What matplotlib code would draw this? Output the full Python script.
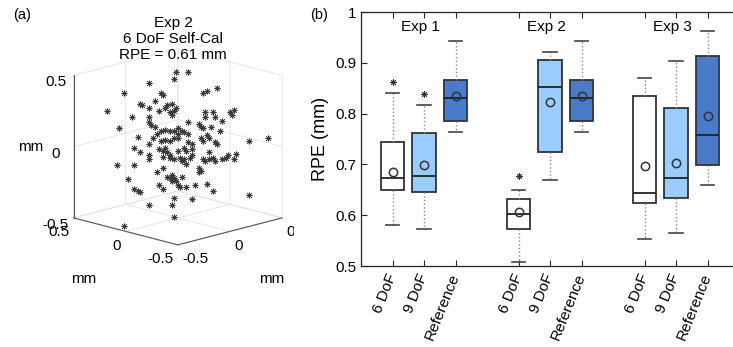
import matplotlib
matplotlib.use('Agg')
import matplotlib.pyplot as plt
from matplotlib.transforms import ScaledTranslation
from matplotlib.patches import Rectangle

plt.rcParams['font.family'] = ['Liberation Sans', 'DejaVu Sans']

# ---------------- Panel (a): 3D scatter of reprojection errors (mm) ----------------
pts_x = [0.24,0.30,0.23,-0.14,-0.26,-0.08,-0.07,-0.11,-0.18,-0.17,
         -0.14,-0.09,-0.06,-0.05,-0.03,-0.04,-0.02,-0.03,-0.01,-0.34,
         -0.22,-0.14,-0.28,-0.14,-0.13,-0.11,-0.19,-0.12,-0.10,-0.08,
         -0.06,-0.04,-0.02,0.00,-0.08,-0.06,-0.04,-0.02,-0.14,0.12,
         0.14,0.19,0.13,0.13,0.17,0.18,0.21,0.25,0.26,0.27,
         0.05,0.10,0.11,0.12,0.16,0.20,0.00,0.02,0.03,0.05,
         0.11,0.12,0.14,0.15,0.18,0.19,0.34,0.43,0.00,0.05,
         0.07,-0.21,-0.18,-0.14,-0.14,-0.09,-0.07,-0.06,-0.05,-0.04,
         -0.02,-0.29,-0.21,-0.10,-0.07,-0.24,-0.05,-0.04,-0.03,-0.02,
         -0.01,-0.03,-0.09,-0.07,-0.21,-0.19,-0.18,-0.02,-0.14,-0.03,
         -0.27,-0.46,0.04,0.07,0.07,0.06,0.03,0.01,0.15,0.12,
         0.13,0.15,0.17,0.18,0.21,0.23,0.24,0.28,0.27,0.10,
         0.11,0.10,0.02,0.00,0.01,0.04,0.08,0.14,0.17,0.07,
         0.34,0.00,0.03,-0.04,-0.07,0.02,0.04]
pts_y = [0.26,0.20,0.27,0.14,0.26,0.08,0.07,0.11,0.18,0.17,
         0.14,0.09,0.06,0.05,0.03,0.04,0.02,0.03,0.01,0.34,
         0.22,0.14,0.28,0.14,0.13,0.11,0.19,0.12,0.10,0.08,
         0.06,0.04,0.02,0.00,0.08,0.06,0.04,0.02,0.14,-0.12,
         -0.14,-0.19,-0.13,-0.13,-0.17,-0.18,-0.21,-0.25,-0.26,-0.27,
         -0.05,-0.10,-0.11,-0.12,-0.16,-0.20,0.00,-0.02,-0.03,-0.05,
         -0.11,-0.12,-0.14,-0.15,-0.18,-0.19,-0.34,-0.43,0.00,-0.05,
         -0.07,0.21,0.18,0.14,0.14,0.09,0.07,0.06,0.05,0.04,
         0.02,0.29,0.21,0.10,0.07,0.24,0.05,0.04,0.03,0.02,
         0.01,0.03,0.09,0.07,0.21,0.19,0.18,0.02,0.14,0.03,
         -0.23,0.06,-0.04,-0.07,-0.07,-0.06,-0.03,-0.01,-0.15,-0.12,
         -0.13,-0.15,-0.17,-0.18,-0.21,-0.23,-0.24,-0.28,-0.27,-0.10,
         -0.11,-0.10,-0.02,0.00,-0.01,-0.04,-0.08,-0.14,-0.17,-0.07,
         -0.34,0.00,-0.03,0.04,0.07,-0.02,-0.04]
pts_z = [0.43,0.43,0.38,0.45,0.38,0.38,0.36,0.32,0.30,0.29,
         0.27,0.25,0.27,0.29,0.30,0.24,0.25,0.22,0.27,0.25,
         0.21,0.21,0.13,0.17,0.15,0.14,0.07,0.06,0.09,0.11,
         0.12,0.11,0.11,0.09,0.04,0.05,0.04,0.06,0.02,0.38,
         0.39,0.41,0.24,0.21,0.24,0.21,0.18,0.24,0.22,0.26,
         0.17,0.16,0.14,0.13,0.14,0.11,0.13,0.11,0.10,0.09,
         0.06,0.04,0.08,0.06,0.03,0.02,0.04,0.06,0.06,0.03,
         0.02,-0.01,-0.04,-0.06,-0.09,-0.02,-0.03,-0.01,-0.04,-0.08,
         -0.09,-0.13,-0.13,-0.18,-0.15,-0.23,-0.21,-0.22,-0.24,-0.22,
         -0.24,-0.20,-0.27,-0.30,-0.30,-0.31,-0.32,-0.36,-0.41,-0.41,
         -0.40,-0.48,-0.03,-0.02,-0.06,-0.08,-0.09,-0.08,-0.04,-0.09,
         -0.10,-0.09,-0.08,-0.10,-0.09,-0.08,-0.06,-0.05,-0.09,-0.15,
         -0.17,-0.18,-0.21,-0.27,-0.28,-0.28,-0.27,-0.26,-0.31,-0.37,
         -0.34,-0.03,-0.01,-0.06,-0.07,-0.10,-0.12]
ticks3d = [-0.5, 0, 0.5]
tick3d_labels = ['-0.5', '0', '0.5']
title_a = "Exp 2\n6 DoF Self-Cal\nRPE = 0.61 mm"

# ---------------- Panel (b): RPE box plots ----------------
positions = [1, 2, 3, 5, 6, 7, 9, 10, 11]
tick_labels = ['6 DoF', '9 DoF', 'Reference'] * 3
group_names = ['Exp 1', 'Exp 2', 'Exp 3']
group_centers = [2, 6, 10]
q1 = [0.649, 0.645, 0.786, 0.572, 0.725, 0.786, 0.624, 0.633, 0.699]
q3 = [0.744, 0.762, 0.867, 0.631, 0.905, 0.867, 0.834, 0.811, 0.914]
medians = [0.673, 0.678, 0.831, 0.603, 0.852, 0.831, 0.644, 0.673, 0.757]
means = [0.686, 0.699, 0.835, 0.606, 0.823, 0.835, 0.696, 0.703, 0.795]
whis_lo = [0.580, 0.573, 0.763, 0.508, 0.669, 0.763, 0.554, 0.565, 0.659]
whis_hi = [0.841, 0.816, 0.942, 0.650, 0.922, 0.942, 0.870, 0.903, 0.963]
outliers = [[0.863], [0.838], [], [0.677], [], [], [], [], []]
box_colors = ['#ffffff', '#99ccff', '#4a7bc8'] * 3
yticks_b = [0.5, 0.6, 0.7, 0.8, 0.9, 1.0]
yticklabels_b = ['0.5', '0.6', '0.7', '0.8', '0.9', '1']

W, H = 733, 347
fig = plt.figure(figsize=(W / 100, H / 100), dpi=100)

def fx(px):
    return px / W

def fy(py):
    return 1 - py / H

# ---- (a)
ax3 = fig.add_axes([fx(42), fy(274), fx(265), 248 / H], projection='3d')
ax3.set_proj_type('ortho')
ax3.view_init(elev=15, azim=-135)
ax3.set_box_aspect((1, 1, 1))
ax3.scatter(pts_x, pts_y, pts_z, marker=(8, 2, 0), s=15, c='#3a3a3a',
            linewidths=0.55, depthshade=False)
ax3.set_xlim(-0.5, 0.5)
ax3.set_ylim(-0.5, 0.5)
ax3.set_zlim(-0.5, 0.5)
for axis in (ax3.xaxis, ax3.yaxis, ax3.zaxis):
    axis.set_pane_color((1, 1, 1, 0))
    axis._axinfo['grid'].update(color='#e3e3e3', linewidth=0.6)
    axis._axinfo['tick'].update(inward_factor=0.0, outward_factor=0.0)
    axis.line.set_color('#555555')
    axis.line.set_linewidth(0.8)
ax3.set_xticks(ticks3d, tick3d_labels)
ax3.set_yticks(ticks3d, tick3d_labels)
ax3.set_zticks(ticks3d, tick3d_labels)
ax3.tick_params(labelsize=11, pad=0)
ax3.tick_params(axis='x', pad=-4)
ax3.tick_params(axis='y', pad=-4)
for lab in ax3.get_yticklabels():
    lab.set_horizontalalignment('right')
for lab in ax3.get_xticklabels():
    lab.set_horizontalalignment('left')
ax3.xaxis._axinfo['label']['ha'] = 'left'
ax3.yaxis._axinfo['label']['ha'] = 'right'
ax3.xaxis.labelpad = 5
ax3.yaxis.labelpad = 5
ax3.zaxis.labelpad = -2
ax3.set_xlabel('mm', fontsize=11)
ax3.set_ylabel('mm', fontsize=11)
ax3.set_zlabel('mm', fontsize=11)
fig.text(fx(173), fy(16), title_a, ha='center', va='top', fontsize=11, linespacing=1.18)
fig.text(fx(13), fy(15), '(a)', ha='left', va='center', fontsize=10.5)
# white mask imitating the cropped right-most tick label of the original figure
fig.patches.append(Rectangle((fx(294), fy(250)), fx(30), 30 / H, transform=fig.transFigure,
                             facecolor='white', edgecolor='none', zorder=10))

# ---- (b)
ax = fig.add_axes([fx(361), fy(266), fx(739 - 361), (266 - 12) / H])
stats = []
for i in range(len(positions)):
    stats.append(dict(med=medians[i], q1=q1[i], q3=q3[i], whislo=whis_lo[i],
                      whishi=whis_hi[i], mean=means[i], fliers=outliers[i]))
bp = ax.bxp(stats, positions=positions, widths=0.75, patch_artist=True,
            showmeans=True, capwidths=0.42,
            boxprops=dict(edgecolor='#333333', linewidth=1.3),
            medianprops=dict(color='#222222', linewidth=1.3),
            whiskerprops=dict(color='#888888', linestyle=':', linewidth=1.0),
            capprops=dict(color='#444444', linewidth=1.2),
            meanprops=dict(marker='o', markerfacecolor='none',
                           markeredgecolor='#333333', markersize=6,
                           markeredgewidth=1.1),
            flierprops=dict(marker=(8, 2, 0), markersize=4.5,
                            markeredgecolor='#333333', markeredgewidth=0.7))
for patch, col in zip(bp['boxes'], box_colors):
    patch.set_facecolor(col)

ax.set_xlim(0, 12)
ax.set_ylim(0.5, 1.0)
ax.set_yticks(yticks_b, yticklabels_b)
ax.set_xticks(positions, tick_labels, rotation=68, ha='right',
              rotation_mode='anchor', va='center')
for lab in ax.get_xticklabels():
    lab.set_transform(lab.get_transform() + ScaledTranslation(5 / 72, -2 / 72, fig.dpi_scale_trans))
ax.tick_params(axis='both', direction='in', length=4, labelsize=11,
               top=True, right=True, color='#262626')
ax.tick_params(axis='x', pad=6)
for sp in ax.spines.values():
    sp.set_color('#262626')
    sp.set_linewidth(0.9)
ax.set_ylabel('RPE (mm)', fontsize=13, labelpad=4)
for name, c in zip(group_names, group_centers):
    ax.text(c - 0.12, 0.97, name, ha='center', va='center', fontsize=11)
fig.text(fx(310), fy(15), '(b)', ha='left', va='center', fontsize=10.5)

fig.savefig('out.png', dpi=100)
